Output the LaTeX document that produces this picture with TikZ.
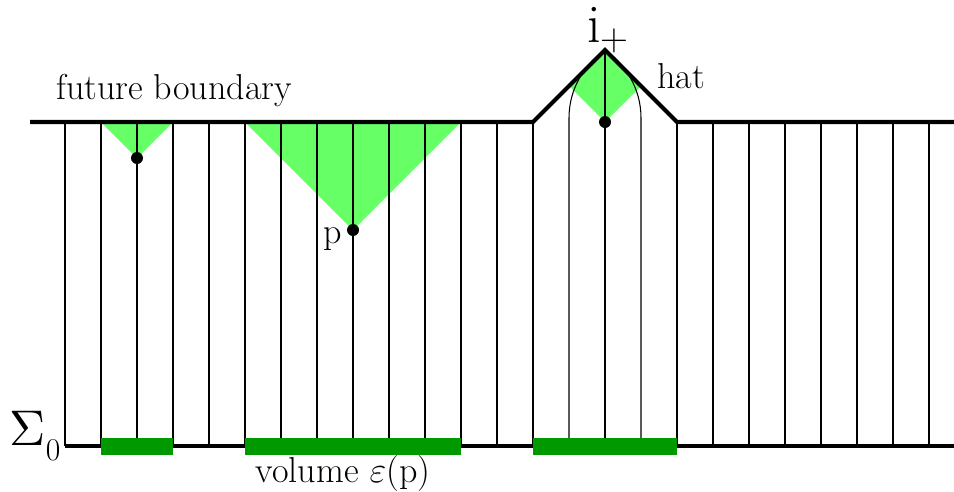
\documentclass[tikz,border=0pt]{standalone}
\usepackage{fontspec}
\usepackage{graphicx}
\definecolor{lightgreen}{RGB}{102,255,102}
\definecolor{darkgreen}{RGB}{0,153,0}
\tikzset{
  cone/.style={fill=lightgreen},
  bar/.style={fill=darkgreen},
  dot/.style={circle,fill=black,inner sep=0pt,minimum size=2.4mm},
  edge/.style={line width=2.3pt},
  world/.style={line width=0.6pt},
  lbl/.style={font=\fontsize{20.5}{24}\selectfont,inner sep=0pt}
}
\begin{document}
\begin{tikzpicture}[x=0.2mm,y=-0.2mm]
    \useasboundingbox (0,0) rectangle (954,491);
    \coordinate (q) at (137,158);
    \coordinate (p) at (353,230);
    \coordinate (h) at (605,122);
    \coordinate (apex) at (605,50);
    % future cones
    \fill[cone] (q) -- ++(-36,-36) -- ++(72,0) -- cycle;
    \fill[cone] (p) -- ++(-108,-108) -- ++(216,0) -- cycle;
    \fill[cone] (h) -- ++(-36,-36) -- (apex) -- ++(36,36) -- cycle;
    % world lines
    \foreach \x in {65,101,...,533} \draw[world] (\x,446) -- (\x,122);
    \foreach \x in {677,713,...,929} \draw[world] (\x,446) -- (\x,122);
    \draw[world] (605,446) -- (apex);
    \draw[world] (569,446) -- (569,118) .. controls (569,88) and (585,64) .. (apex);
    \draw[world] (641,446) -- (641,118) .. controls (641,88) and (625,64) .. (apex);
    % boundaries
    \draw[edge] (30,122) -- (533,122) -- (apex) -- (677,122) -- (954,122);
    \draw[edge] (65,446) -- (954,446);
    \fill[bar] (101,438) rectangle (173,455);
    \fill[bar] (245,438) rectangle (461,455);
    \fill[bar] (533,438) rectangle (677,455);
    \node[dot] (qdot) at (q) {};
    \node[dot] (pdot) at (p) {};
    \node[dot] (hdot) at (h) {};
    % labels
    \node[lbl,anchor=base] (future) at (174,99) {future boundary};
    \node[lbl,anchor=base west] (hat) at (657,88) {hat};
    \node[lbl,anchor=base] (plabel) at (333,243) {p};
    \node[lbl,anchor=base] (volume) at (343,482) {volume $\varepsilon$(p)};
    \node[inner sep=0pt,anchor=base] (iplus) at (608,42)
      {\fontsize{31}{31}\selectfont i\raisebox{-0.16cm}{\fontsize{22}{22}\selectfont +}};
    \node[inner sep=0pt,anchor=base] (sigma) at (35,445)
      {\scalebox{2.85}{$\Sigma$}\raisebox{-0.3cm}{\fontsize{18}{18}\selectfont 0}};
\end{tikzpicture}
\end{document}
